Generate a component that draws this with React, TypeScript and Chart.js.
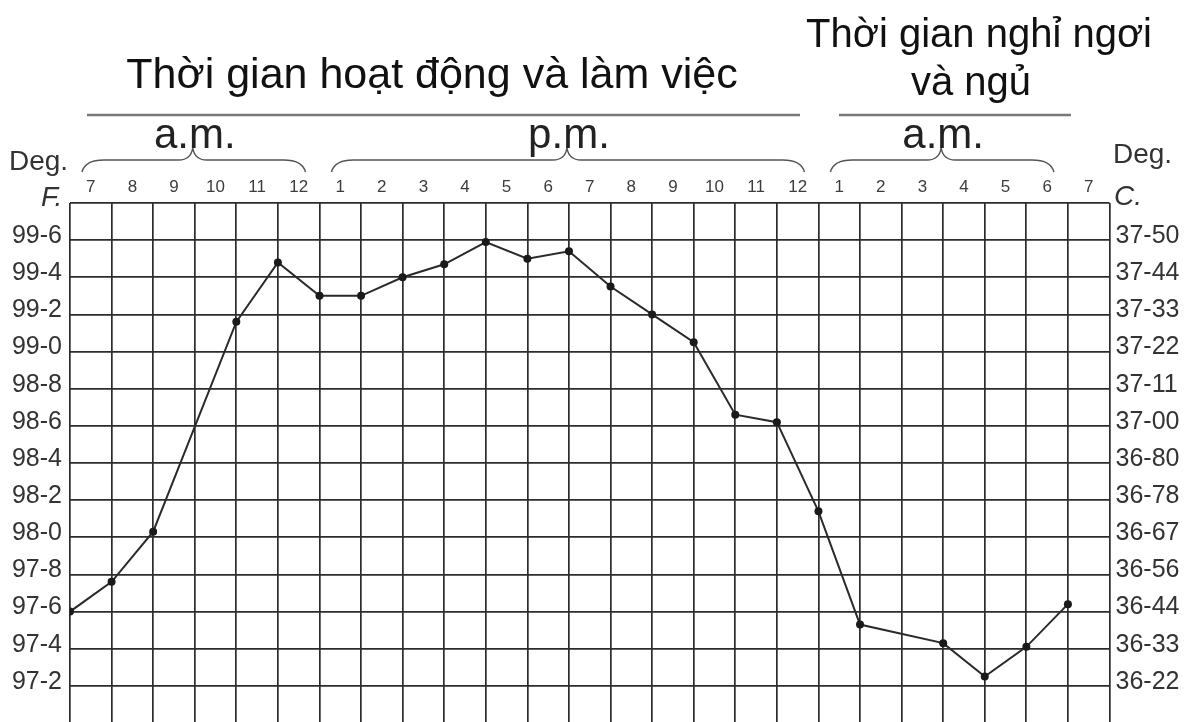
import React, { useEffect, useRef } from "react";
import { Chart, registerables } from "chart.js";

Chart.register(...registerables);

// ---- data ----
const hourLabels = ["7", "8", "9", "10", "11", "12", "1", "2", "3", "4", "5", "6", "7", "8", "9", "10", "11", "12", "1", "2", "3", "4", "5", "6", "7"];
// temperature (°F) read at each hour mark; null = no marked reading
const tempF: (number | null)[] = [97.6, 97.76, 98.03, null, 99.16, 99.48, 99.3, 99.3, 99.4, 99.47, 99.59, 99.5, 99.54, 99.35, 99.2, 99.05, 98.66, 98.62, 98.14, 97.53, null, 97.43, 97.25, 97.41, 97.64];
const fahrenheitTicks = [99.6, 99.4, 99.2, 99.0, 98.8, 98.6, 98.4, 98.2, 98.0, 97.8, 97.6, 97.4, 97.2];
const fahrenheitLabels = ["99-6", "99-4", "99-2", "99-0", "98-8", "98-6", "98-4", "98-2", "98-0", "97-8", "97-6", "97-4", "97-2"];
const celsiusLabels = ["37-50", "37-44", "37-33", "37-22", "37-11", "37-00", "36-80", "36-78", "36-67", "36-56", "36-44", "36-33", "36-22"];
const periodGroups = [
  { label: "a.m.", from: 0, to: 6 },
  { label: "p.m.", from: 6, to: 18 },
  { label: "a.m.", from: 18, to: 24 },
];
const headerWork = "Thời gian hoạt động và làm việc";
const headerRest = ["Thời gian nghỉ ngơi", "và ngủ"];

const FONT = '"Liberation Sans", Arial, sans-serif';
const TEXT = "#333333";
const GRID = "#2c2c2c";

const findTick = (v: number) => fahrenheitTicks.findIndex((t) => Math.abs(t - v) < 0.001);

const decorPlugin = {
  id: "decor",
  afterDraw(chart: any) {
    const { ctx, chartArea, scales } = chart;
    const x = scales.x;
    const top = chartArea.top;
    ctx.save();

    // hour labels centred in columns
    ctx.font = `17px ${FONT}`;
    ctx.fillStyle = "#3c3c3c";
    ctx.textAlign = "center";
    ctx.textBaseline = "middle";
    hourLabels.forEach((h, i) => {
      ctx.fillText(h, x.getPixelForValue(i + 0.5), top - 16);
    });

    // braces + period labels
    ctx.strokeStyle = "#555";
    ctx.lineWidth = 1.5;
    for (const g of periodGroups) {
      const x1 = x.getPixelForValue(g.from) + 12;
      const x2 = x.getPixelForValue(g.to) - 14;
      const xm = (x.getPixelForValue(g.from) + x.getPixelForValue(g.to)) / 2 - 2;
      const yl = 160;
      ctx.beginPath();
      ctx.moveTo(x1, yl + 12);
      ctx.quadraticCurveTo(x1 + 3, yl, x1 + 22, yl);
      ctx.lineTo(xm - 14, yl);
      ctx.quadraticCurveTo(xm - 2, yl, xm, yl - 12);
      ctx.quadraticCurveTo(xm + 2, yl, xm + 14, yl);
      ctx.lineTo(x2 - 22, yl);
      ctx.quadraticCurveTo(x2 - 3, yl, x2, yl + 12);
      ctx.stroke();
      ctx.font = `42px ${FONT}`;
      ctx.fillStyle = "#222";
      ctx.textAlign = "center";
      ctx.textBaseline = "alphabetic";
      ctx.fillText(g.label, xm + 2, 148);
    }

    // header underlines
    ctx.strokeStyle = "#7a7a7a";
    ctx.lineWidth = 2.5;
    ctx.beginPath();
    ctx.moveTo(87, 115);
    ctx.lineTo(800, 115);
    ctx.moveTo(839, 115);
    ctx.lineTo(1071, 115);
    ctx.stroke();

    // headers
    ctx.fillStyle = "#111";
    ctx.textAlign = "center";
    ctx.textBaseline = "alphabetic";
    ctx.font = `43px ${FONT}`;
    ctx.fillText(headerWork, 432, 88);
    ctx.font = `40px ${FONT}`;
    ctx.fillText(headerRest[0], 979, 47);
    ctx.fillText(headerRest[1], 971, 95);

    // unit labels
    ctx.fillStyle = TEXT;
    ctx.textAlign = "left";
    ctx.font = `28px ${FONT}`;
    ctx.fillText("Deg.", 9, 170);
    ctx.fillText("Deg.", 1113, 163);
    ctx.font = `italic 28px ${FONT}`;
    ctx.fillText("F.", 41, 206);
    ctx.fillText("C.", 1114, 205);
    ctx.restore();
  },
};

const noPad = (s: any) => {
  s.paddingTop = 0;
  s.paddingBottom = 0;
};

export default function App() {
  const ref = useRef<HTMLCanvasElement | null>(null);
  useEffect(() => {
    if (!ref.current) return;
    const chart = new Chart(ref.current, {
      type: "line",
      data: {
        datasets: [
          {
            data: tempF.map((v, i) => ({ x: i, y: v })) as any,
            borderColor: "#2a2a2a",
            borderWidth: 2,
            pointRadius: 4,
            pointBackgroundColor: "#1a1a1a",
            pointBorderWidth: 0,
            tension: 0,
            spanGaps: true,
            yAxisID: "y",
            xAxisID: "x",
          },
        ],
      },
      options: {
        responsive: false,
        animation: false,
        layout: { padding: { top: 203, left: 0, right: 0, bottom: 0 } },
        plugins: { legend: { display: false }, tooltip: { enabled: false }, title: { display: false } },
        scales: {
          x: {
            type: "linear",
            position: "bottom",
            min: 0,
            max: hourLabels.length,
            ticks: { display: false, stepSize: 1 },
            grid: { color: GRID, lineWidth: 1.7, drawTicks: false },
            border: { display: false },
            afterFit: (s: any) => {
              s.height = 0;
              s.paddingLeft = 0;
              s.paddingRight = 0;
            },
          },
          y: {
            type: "linear",
            position: "left",
            min: 97.0,
            max: 99.8,
            ticks: {
              stepSize: 0.2,
              padding: 8,
              labelOffset: -4,
              color: TEXT,
              font: { size: 25, family: FONT },
              callback: (v: any) => {
                const i = findTick(Number(v));
                return i >= 0 ? fahrenheitLabels[i] : "";
              },
            },
            grid: { color: GRID, lineWidth: 1.7, drawTicks: false },
            border: { display: false },
            afterFit: (s: any) => {
              s.width = 70;
              noPad(s);
            },
          },
          y2: {
            type: "linear",
            position: "right",
            min: 97.0,
            max: 99.8,
            ticks: {
              stepSize: 0.2,
              padding: 6,
              labelOffset: -4,
              color: TEXT,
              font: { size: 25, family: FONT },
              callback: (v: any) => {
                const i = findTick(Number(v));
                return i >= 0 ? celsiusLabels[i] : "";
              },
            },
            grid: { display: false, drawTicks: false },
            border: { display: false },
            afterFit: (s: any) => {
              s.width = 77.5;
              noPad(s);
            },
          },
        },
      },
      plugins: [decorPlugin],
    });
    return () => chart.destroy();
  }, []);
  return (
    <canvas
      ref={ref}
      width={1187}
      height={727}
      style={{ position: "absolute", left: 0, top: 0, display: "block", background: "#fff" }}
    />
  );
}
